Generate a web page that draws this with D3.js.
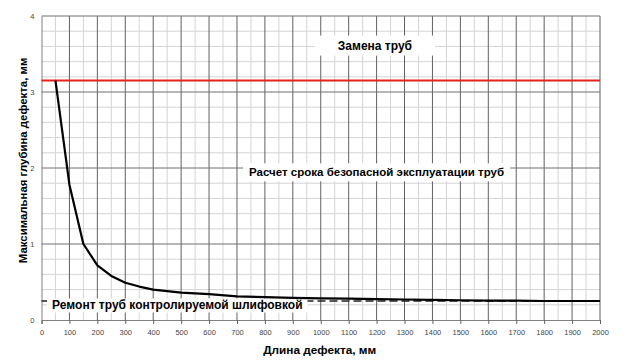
<!DOCTYPE html>
<html>
<head>
<meta charset="utf-8">
<script src="https://cdn.jsdelivr.net/npm/d3@7"></script>
<style>
  body { margin: 0; background: #fff; }
  text { font-family: "Liberation Sans", Arial, sans-serif; }
</style>
</head>
<body>
<div id="chart"></div>
<script>
// curve values
var lengths = [50, 100, 150, 200, 250, 300, 350, 400, 450, 500, 600, 700, 800, 900, 1000, 1100, 1200, 1300, 1400, 1500, 1600, 1700, 1800, 1900, 2000];
var depths  = [3.15, 1.78, 1.0, 0.72, 0.58, 0.49, 0.44, 0.40, 0.38, 0.36, 0.34, 0.31, 0.30, 0.29, 0.285, 0.28, 0.275, 0.27, 0.265, 0.26, 0.255, 0.255, 0.25, 0.25, 0.25];
var replaceDepth = 3.15;
var grindDepth = 0.25;
var xTicks = d3.range(0, 2001, 100);
var yTicks = [0, 1, 2, 3, 4];

var labels = [
  {text: "Замена труб", x: 1194, y: 3.6, size: 12, padX: 23, padY: 3},
  {text: "Расчет срока безопасной эксплуатации труб", x: 1200, y: 1.93, size: 11.5, padX: 6, padY: 3},
  {text: "Ремонт труб контролируемой шлифовкой", x: 38, y: 0.18, size: 12, padX: 5, padY: 0, anchor: "start"}
];

function drawChart(){
    var width = 624, height = 361;
    var margin = {left: 41.5, right: 24, top: 16, bottom: 41};

    var svg = d3.select('#chart')
        .append('svg')
        .attr('width', width)
        .attr('height', height);

    var x = d3.scaleLinear().domain([0, 2000]).range([margin.left, width - margin.right]);
    var y = d3.scaleLinear().domain([0, 4]).range([height - margin.bottom, margin.top]);

    //minor grid
    svg.selectAll('.minx')
        .data(d3.range(50, 2001, 100))
        .enter().append('line')
        .attr('x1', function(d){ return x(d); }).attr('x2', function(d){ return x(d); })
        .attr('y1', y(0)).attr('y2', y(4))
        .attr('stroke', '#d4d4d4').attr('stroke-width', 1);
    svg.selectAll('.miny')
        .data(d3.range(0, 20).filter(function(i){ return i % 5 != 0; }).map(function(i){ return i * 0.2; }))
        .enter().append('line')
        .attr('x1', x(0)).attr('x2', x(2000))
        .attr('y1', function(d){ return y(d); }).attr('y2', function(d){ return y(d); })
        .attr('stroke', '#d4d4d4').attr('stroke-width', 1);

    //major grid
    svg.selectAll('.majx')
        .data(xTicks.slice(1))
        .enter().append('line')
        .attr('x1', function(d){ return x(d); }).attr('x2', function(d){ return x(d); })
        .attr('y1', y(0)).attr('y2', y(4))
        .attr('stroke', '#606060').attr('stroke-width', 1);
    svg.selectAll('.majy')
        .data(yTicks.slice(1))
        .enter().append('line')
        .attr('x1', x(0)).attr('x2', x(2000))
        .attr('y1', function(d){ return y(d); }).attr('y2', function(d){ return y(d); })
        .attr('stroke', '#707070').attr('stroke-width', 1);

    //axes
    var xAxis = svg.append('g')
        .attr('transform', 'translate(0,' + y(0) + ')')
        .call(d3.axisBottom(x).tickValues(xTicks).tickFormat(d3.format('d')).tickSize(4).tickPadding(6));
    var yAxis = svg.append('g')
        .attr('transform', 'translate(' + x(0) + ',0)')
        .call(d3.axisLeft(y).tickValues(yTicks).tickFormat(d3.format('d')).tickSize(0).tickPadding(7));
    [xAxis, yAxis].forEach(function(g){
        g.select('.domain').attr('stroke', '#808080');
        g.selectAll('.tick line').attr('stroke', '#606060');
        g.selectAll('text').attr('font-size', 7.5).attr('fill', '#444')
            .attr('font-family', '"Liberation Sans", Arial, sans-serif');
    });

    //replacement limit
    svg.append('line')
        .attr('x1', x(0)).attr('x2', x(2000))
        .attr('y1', y(replaceDepth)).attr('y2', y(replaceDepth))
        .attr('stroke', '#e8201c').attr('stroke-width', 2);

    //grinding limit
    svg.append('line')
        .attr('x1', x(0)).attr('x2', x(2000))
        .attr('y1', y(grindDepth)).attr('y2', y(grindDepth))
        .attr('stroke', '#222').attr('stroke-width', 1.6)
        .attr('stroke-dasharray', '8,4');

    //labels with white boxes
    labels.forEach(function(l){
        var g = svg.append('g');
        var t = g.append('text')
            .attr('x', x(l.x)).attr('y', y(l.y))
            .attr('text-anchor', l.anchor || 'middle')
            .attr('dominant-baseline', 'middle')
            .attr('font-size', l.size).attr('font-weight', 'bold')
            .text(l.text);
        var b = t.node().getBBox();
        g.insert('rect', 'text')
            .attr('x', b.x - l.padX).attr('y', b.y - l.padY)
            .attr('width', b.width + 2 * l.padX).attr('height', b.height + 2 * l.padY)
            .attr('fill', '#fff');
    });

    //curve
    var line = d3.line()
        .x(function(d, i){ return x(lengths[i]); })
        .y(function(d){ return y(d); });
    svg.append('path')
        .datum(depths)
        .attr('d', line)
        .attr('fill', 'none')
        .attr('stroke', '#000')
        .attr('stroke-width', 2.2)
        .attr('stroke-linejoin', 'round');

    //axis titles
    svg.append('text')
        .attr('x', (x(0) + x(2000)) / 2 - 1).attr('y', 354)
        .attr('text-anchor', 'middle')
        .attr('font-size', 11.8).attr('font-weight', 'bold')
        .text('Длина дефекта, мм');
    svg.append('text')
        .attr('transform', 'translate(27,' + y(2.1) + ') rotate(-90)')
        .attr('text-anchor', 'middle')
        .attr('font-size', 11.4).attr('font-weight', 'bold')
        .text('Максимальная глубина дефекта, мм');
}

window.onload = drawChart();
</script>
</body>
</html>
